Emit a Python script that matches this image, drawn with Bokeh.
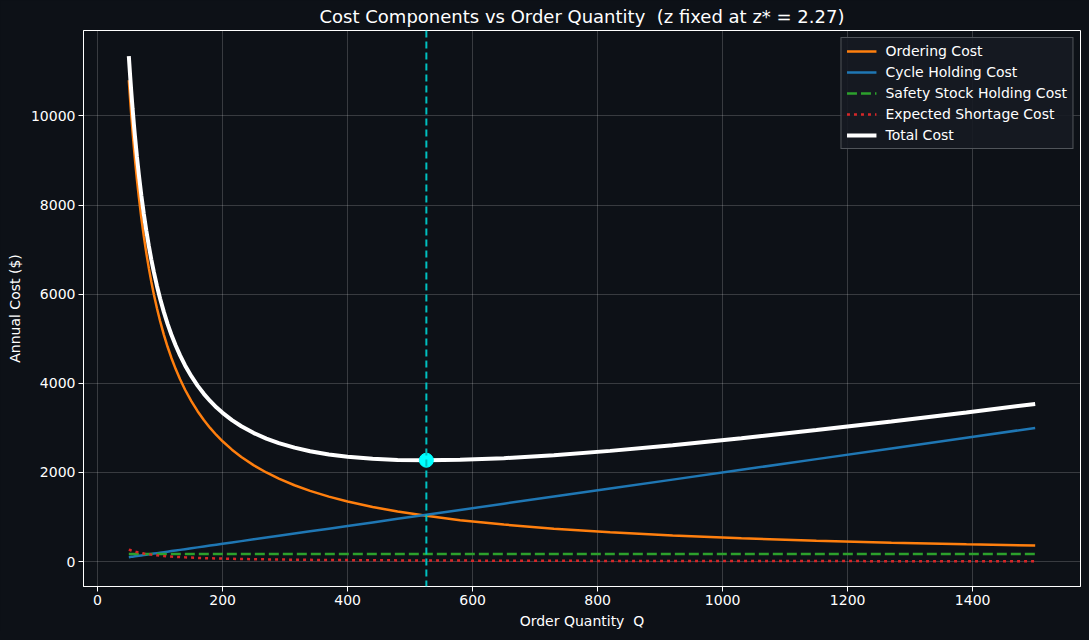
from bokeh.plotting import figure
from bokeh.models import Range1d, FixedTicker, Span, Legend, LegendItem
from bokeh.embed import file_html
from bokeh.resources import INLINE

# Order quantities sampled along the curves (denser where the curves bend)
q = [50, 52, 54, 56, 58, 60, 63, 66, 70, 74, 78, 82, 86, 90, 95, 100, 106, 112,
     118, 125, 132, 140, 150, 160, 170, 180, 190, 200, 215, 230, 250, 270, 290,
     315, 340, 370, 400, 440, 480, 526, 580, 650, 730, 820, 920, 1030, 1150,
     1270, 1390, 1500]

ordering_cost = [10800, 10385, 10000, 9643, 9310, 9000, 8571, 8182, 7714, 7297,
                 6923, 6585, 6279, 6000, 5684, 5400, 5094, 4821, 4576, 4320, 4091,
                 3857, 3600, 3375, 3176, 3000, 2842, 2700, 2512, 2348, 2160, 2000,
                 1862, 1714, 1588, 1459, 1350, 1227, 1125, 1027, 931, 831, 740,
                 659, 587, 524, 470, 425, 388, 360]

cycle_holding = [100, 104, 108, 112, 116, 120, 126, 132, 140, 148, 156, 164, 172,
                 180, 190, 200, 212, 224, 236, 250, 264, 280, 300, 320, 340, 360,
                 380, 400, 430, 460, 500, 540, 580, 630, 680, 740, 800, 880, 960,
                 1052, 1160, 1300, 1460, 1640, 1840, 2060, 2300, 2540, 2780, 3000]

safety_holding = [170] * len(q)

shortage_cost = [270, 260, 250, 241, 233, 225, 214, 205, 193, 182, 173, 165, 157,
                 150, 142, 135, 127, 121, 114, 108, 102, 96, 90, 84, 79, 75, 71,
                 68, 63, 59, 54, 50, 47, 43, 40, 36, 34, 31, 28, 26, 23, 21, 18,
                 16, 15, 13, 12, 11, 10, 9]

total_cost = [11340, 10919, 10528, 10166, 9829, 9515, 9081, 8689, 8217, 7797,
              7422, 7084, 6778, 6500, 6186, 5905, 5603, 5336, 5096, 4848, 4627,
              4403, 4160, 3949, 3765, 3605, 3463, 3338, 3175, 3037, 2884, 2760,
              2659, 2557, 2478, 2405, 2354, 2308, 2283, 2275, 2284, 2322, 2388,
              2485, 2612, 2767, 2952, 3146, 3348, 3539]

q_opt = 526
cost_opt = 2275
x_ticks = [0, 200, 400, 600, 800, 1000, 1200, 1400]
y_ticks = [0, 2000, 4000, 6000, 8000, 10000]

bg = '#0d1117'
font = 'DejaVu Sans'

p = figure(
    width=1081, height=631,
    x_range=Range1d(-22.5, 1572.5),
    y_range=Range1d(-558, 11917),
    title='Cost Components vs Order Quantity\u00a0 (z fixed at z* = 2.27)',
    toolbar_location=None,
    output_backend='svg',
    min_border_left=83, min_border_right=1, min_border_top=24, min_border_bottom=40,
)
p.background_fill_color = bg
p.border_fill_color = bg
p.outline_line_color = 'white'
p.outline_line_width = 1

p.title.text_color = 'white'
p.title.text_font = font
p.title.text_font_size = '18px'
p.title.text_font_style = 'normal'
p.title.align = 'center'
p.title.standoff = 7

for ax in (p.xaxis, p.yaxis):
    ax.axis_line_color = 'white'
    ax.major_tick_line_color = 'white'
    ax.major_tick_out = 5
    ax.major_tick_in = 0
    ax.minor_tick_line_color = None
    ax.major_label_text_color = 'white'
    ax.major_label_text_font = font
    ax.major_label_text_font_size = '14px'
    ax.major_label_standoff = 3
    ax.axis_label_text_color = 'white'
    ax.axis_label_text_font = font
    ax.axis_label_text_font_size = '14px'
    ax.axis_label_text_font_style = 'normal'
    ax.axis_label_standoff = 5

p.xaxis.ticker = FixedTicker(ticks=x_ticks)
p.yaxis.ticker = FixedTicker(ticks=y_ticks)
p.xaxis.axis_label = 'Order Quantity\u00a0 Q'
p.yaxis.axis_label = 'Annual Cost ($)'

p.grid.grid_line_color = '#ffffff'
p.grid.grid_line_alpha = 0.18

r1 = p.line(q, ordering_cost, line_color='#ff7f0e', line_width=2.5)
r2 = p.line(q, cycle_holding, line_color='#1f77b4', line_width=2.5)
r3 = p.line(q, safety_holding, line_color='#2ca02c', line_width=2.5, line_dash='10 4')
r4 = p.line(q, shortage_cost, line_color='#d62728', line_width=2.5, line_dash='3 4')
r5 = p.line(q, total_cost, line_color='white', line_width=4)

p.add_layout(Span(location=q_opt, dimension='height', line_color='#00c0c0',
                  line_width=2, line_dash='7 4'))
p.scatter([q_opt], [cost_opt], size=14, color='#00ffff')

legend = Legend(items=[
    LegendItem(label='Ordering Cost', renderers=[r1]),
    LegendItem(label='Cycle Holding Cost', renderers=[r2]),
    LegendItem(label='Safety Stock Holding Cost', renderers=[r3]),
    LegendItem(label='Expected Shortage Cost', renderers=[r4]),
    LegendItem(label='Total Cost', renderers=[r5]),
], location='top_right')
legend.background_fill_color = '#161b22'
legend.background_fill_alpha = 0.9
legend.border_line_color = '#8b8f94'
legend.border_line_width = 1
legend.label_text_color = 'white'
legend.label_text_font = font
legend.label_text_font_size = '14px'
legend.glyph_width = 30
legend.glyph_height = 16
legend.spacing = 5
legend.padding = 5
legend.margin = 7
legend.label_standoff = 9
p.add_layout(legend)

html = file_html(p, INLINE)
html = html.replace('<head>', '<head><style>body{background:#0d1117;}</style>', 1)
open("out.html", "w").write(html)
